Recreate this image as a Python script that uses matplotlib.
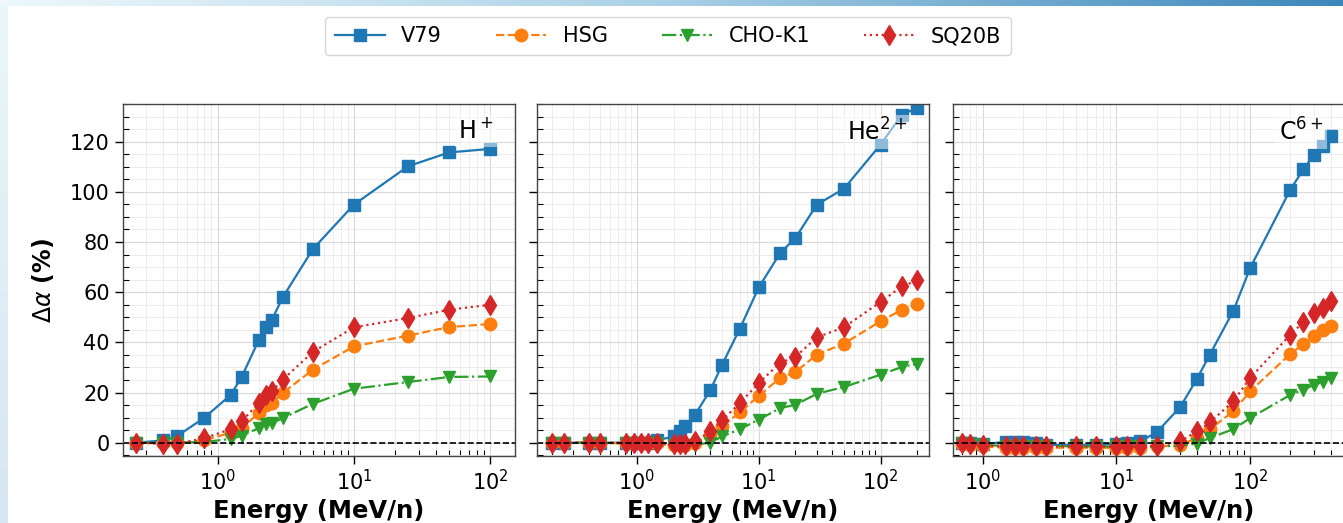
import numpy as np
import matplotlib
matplotlib.use("Agg")
import matplotlib.pyplot as plt
from matplotlib.colors import LinearSegmentedColormap
from matplotlib.ticker import LogLocator, MultipleLocator, NullFormatter

plt.rcParams.update({
    "font.family": "DejaVu Sans",
    "font.size": 15,
    "axes.edgecolor": "#444444",
    "axes.linewidth": 1.0,
})

# ----- data: relative change in alpha (%) vs energy per nucleon -----
ions = ["H$^+$", "He$^{2+}$", "C$^{6+}$"]
cell_lines = ["V79", "HSG", "CHO-K1", "SQ20B"]

E_H = [0.25, 0.4, 0.5, 0.8, 1.25, 1.5, 2.0, 2.25, 2.5, 3.0, 5.0, 10, 25, 50, 100]
V79_H = [0, 0.9, 2.5, 10.0, 19.1, 26.2, 40.8, 46.1, 49.0, 57.9, 77.2, 94.9, 110.2, 115.7, 117.1]
HSG_H = [0, -0.3, -0.3, 1.0, 4.0, 5.8, 11.8, 15.1, 15.8, 19.8, 29.1, 38.4, 42.7, 46.1, 47.3]
CHO_H = [0, 0, 0, 0.3, 1.5, 2.8, 5.8, 7.4, 7.8, 9.8, 15.5, 21.5, 24.2, 26.2, 26.4]
SQ_H = [0, -0.4, -0.4, 1.8, 5.4, 8.5, 15.8, 19.1, 20.5, 25.1, 36.2, 46.0, 49.7, 53.0, 55.0]

E_He = [0.2, 0.25, 0.4, 0.5, 0.82, 0.95, 1.08, 1.23, 1.45, 2.0, 2.25, 2.5, 3.0,
        4.0, 5.0, 7.0, 10, 15, 20, 30, 50, 100, 150, 200]
V79_He = [0, 0, 0, 0, 0, 0, 0, 0, 0.9, 2.5, 4.5, 6.8, 11.2,
          20.9, 31.1, 45.5, 61.9, 75.6, 81.6, 94.9, 101.2, 118.8, 130.8, 133.4]
HSG_He = [0, 0, 0, 0, -0.3, -0.3, -0.3, -0.3, -0.3, -0.8, -0.8, -0.8, 0,
          3.0, 6.5, 12.1, 18.7, 25.8, 28.2, 35.1, 39.5, 48.4, 53.0, 55.3]
CHO_He = [0, 0, 0, 0, -0.3, -0.3, -0.3, -0.3, -0.3, -0.8, -0.8, -0.8, -0.8,
          0, 2.5, 5.4, 9.2, 13.8, 15.1, 19.5, 22.2, 27.1, 30.2, 31.5]
SQ_He = [0, 0, 0, 0, 0, 0, 0, 0, 0, -0.5, -0.5, -0.5, 0.5,
         4.5, 8.9, 15.8, 23.8, 31.8, 34.2, 42.0, 46.0, 56.1, 62.3, 64.7]

E_C = [0.7, 0.8, 1.0, 1.5, 1.75, 2.0, 2.5, 3.0, 5.0, 7.0, 10, 12, 15, 20,
       30, 40, 50, 75, 100, 200, 250, 300, 350, 400]
V79_C = [0, -0.3, -0.5, 0.3, 0.3, 0.3, -0.3, -0.8, -1.0, -0.8, -0.5, 0, 0.5, 4.1,
         14.2, 25.4, 35.1, 52.6, 69.6, 100.9, 108.9, 114.8, 118.1, 122.4]
HSG_C = [-0.5, -1.0, -1.5, -2.0, -2.0, -2.0, -2.0, -2.0, -2.0, -2.0, -2.0, -2.0, -2.0, -1.5,
         -1.0, 1.9, 5.4, 12.5, 20.5, 35.4, 39.3, 42.4, 44.8, 46.4]
CHO_C = [0, -0.5, -1.0, -1.2, -1.2, -1.2, -1.2, -1.2, -1.5, -1.5, -1.5, -1.5, -1.5, -1.5,
         -1.2, -0.4, 1.9, 5.4, 9.8, 19.1, 21.1, 23.1, 24.2, 25.8]
SQ_C = [0, -0.5, -1.0, -1.5, -1.5, -1.5, -1.5, -1.5, -1.5, -1.5, -1.5, -1.5, -1.5, -1.2,
        0.5, 4.5, 8.1, 16.5, 25.8, 43.1, 48.0, 51.7, 53.7, 56.3]

energies = [E_H, E_He, E_C]
values = [
    [V79_H, HSG_H, CHO_H, SQ_H],
    [V79_He, HSG_He, CHO_He, SQ_He],
    [V79_C, HSG_C, CHO_C, SQ_C],
]
xlims = [(0.202, 152), (0.151, 250), (0.601, 512)]

styles = [
    dict(color="#1f77b4", ls="-", marker="s", ms=9),
    dict(color="#ff7f0e", ls="--", marker="o", ms=9),
    dict(color="#2ca02c", ls="-.", marker="v", ms=9),
    dict(color="#d62728", ls=":", marker="d", ms=10),
]

W, H = 1343, 523
fig = plt.figure(figsize=(W / 100, H / 100), dpi=100)

# slide-style backdrop strips
top = fig.add_axes([0, 1 - 6 / H, 1, 6 / H])
top.imshow(np.linspace(0, 1, 256)[None, :], aspect="auto",
           cmap=LinearSegmentedColormap.from_list("t", ["#eef8fb", "#a9d0e6", "#3d87bb"]))
top.axis("off")
side = fig.add_axes([0, 0, 8 / W, 1 - 6 / H])
side.imshow(np.linspace(0, 1, 256)[:, None], aspect="auto",
            cmap=LinearSegmentedColormap.from_list("s", ["#eaf6f9", "#d6e6f2"]))
side.axis("off")

ax_w = 392 / W
ax_h = 352 / H
ax_y = (H - 456) / H
lefts = [123 / W, 537 / W, 953 / W]

axes = []
for i, x0 in enumerate(lefts):
    ax = fig.add_axes([x0, ax_y, ax_w, ax_h])
    axes.append(ax)
    for j, name in enumerate(cell_lines):
        ax.plot(energies[i], values[i][j], label=name, lw=1.6, **styles[j])
    ax.axhline(0, color="black", ls="--", lw=1.2)

    ax.set_xscale("log")
    ax.set_xlim(*xlims[i])
    ax.set_ylim(-5.3, 135)
    ax.xaxis.set_major_locator(LogLocator(base=10, numticks=10))
    ax.xaxis.set_minor_locator(LogLocator(base=10, subs=np.arange(2, 10), numticks=20))
    ax.xaxis.set_minor_formatter(NullFormatter())
    ax.yaxis.set_major_locator(MultipleLocator(20))
    ax.yaxis.set_minor_locator(MultipleLocator(5))

    ax.grid(which="major", color="#d9d9d9", lw=0.8)
    ax.grid(which="minor", color="#ececec", lw=0.7)
    ax.set_axisbelow(True)
    ax.tick_params(which="major", direction="out", length=6, width=1.0, labelsize=15)
    ax.tick_params(which="minor", direction="in", length=4, width=0.8)
    if i > 0:
        ax.tick_params(axis="y", labelleft=False)
    else:
        ax.set_ylabel(r"$\Delta\alpha$ (%)", fontsize=17, fontweight="bold", labelpad=10)
    ax.set_xlabel("Energy (MeV/n)", fontsize=17.5, fontweight="bold", labelpad=3)

    ax.text(0.945, 0.96, ions[i], transform=ax.transAxes, ha="right", va="top",
            fontsize=17, zorder=5,
            bbox=dict(boxstyle="square,pad=0.15", facecolor="white",
                      edgecolor="none", alpha=0.5))

handles, labels = axes[0].get_legend_handles_labels()
fig.legend(handles, labels, loc="center", bbox_to_anchor=(668 / W, 1 - 36 / H),
           ncol=4, fontsize=15, frameon=True, handlelength=2.4, columnspacing=2.6,
           borderpad=0.45, edgecolor="#cccccc", fancybox=True)

fig.savefig("out.png", dpi=100)
